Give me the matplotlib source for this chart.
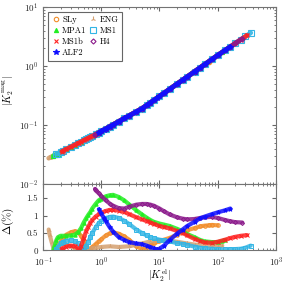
import numpy as np
import matplotlib.pyplot as plt

plt.rcParams['font.family'] = 'serif'
plt.rcParams['font.serif'] = ['cmr10', 'DejaVu Serif']
plt.rcParams['mathtext.fontset'] = 'cm'
plt.rcParams['axes.formatter.use_mathtext'] = True

# valores: |K2_el|, |K2_mag| e desvio Delta(%) para cada EOS
sly_kel = [0.18, 0.2, 0.22, 0.25, 0.3, 0.35, 0.4, 0.45, 0.5, 0.55, 0.6, 0.65, 0.7, 0.8, 0.9,
           1.0, 1.2, 1.4, 1.6, 2.0, 2.5, 3.0, 4.0, 5.0, 6.0, 7.0, 8.0, 10, 12, 15, 20, 25, 30,
           40, 50, 60, 70, 80, 100]
sly_kmag = [0.0329, 0.0347, 0.0363, 0.0388, 0.0425, 0.0459, 0.0490, 0.0520, 0.0548, 0.0575,
            0.0600, 0.0625, 0.0649, 0.0693, 0.0739, 0.0783, 0.0866, 0.0943, 0.1015, 0.1148,
            0.1299, 0.1436, 0.1683, 0.1904, 0.2150, 0.2393, 0.2626, 0.3067, 0.3479, 0.4064,
            0.4965, 0.5799, 0.6579, 0.8038, 0.9386, 1.065, 1.186, 1.301, 1.521]
sly_delta = [0.05, 0.25, 0.33, 0.45, 0.52, 0.55, 0.52, 0.42, 0.28, 0.1, 0.02, 0.05, 0.1, 0.18,
             0.26, 0.32, 0.43, 0.49, 0.52, 0.48, 0.4, 0.31, 0.12, 0.04, 0.08, 0.15, 0.2, 0.27,
             0.31, 0.36, 0.45, 0.52, 0.58, 0.64, 0.69, 0.71, 0.72, 0.73, 0.72]

eng_kel = [0.125, 0.13, 0.14, 0.15, 0.16, 0.18, 0.2, 0.25, 0.3, 0.35, 0.4, 0.5, 0.6, 0.8, 1.0,
           1.4, 2.0, 3.0, 4.0, 5.0, 7.0, 10, 15, 20, 30, 40, 60, 80, 100, 120]
eng_kmag = [0.0274, 0.0280, 0.0290, 0.0300, 0.0310, 0.0329, 0.0347, 0.0388, 0.0425, 0.0459,
            0.0490, 0.0548, 0.0600, 0.0693, 0.0783, 0.0943, 0.1148, 0.1436, 0.1683, 0.1904,
            0.2393, 0.3067, 0.4064, 0.4965, 0.6579, 0.8038, 1.065, 1.301, 1.521, 1.718]
eng_delta = [0.6, 0.45, 0.25, 0.08, 0.1, 0.17, 0.2, 0.18, 0.12, 0.06, 0.03, 0.02, 0.05, 0.08,
             0.1, 0.12, 0.1, 0.12, 0.16, 0.2, 0.26, 0.29, 0.28, 0.25, 0.2, 0.17, 0.14, 0.13,
             0.13, 0.14]

mpa1_kel = [0.15, 0.16, 0.17, 0.18, 0.2, 0.25, 0.3, 0.35, 0.4, 0.45, 0.5, 0.55, 0.6, 0.65, 0.7,
            0.8, 0.9, 1.0, 1.2, 1.4, 1.6, 2.0, 2.5, 3.0, 4.0, 5.0, 6.0, 7.0, 8.0, 10, 12, 15,
            20, 25, 30, 40, 50, 60, 80, 100, 120, 135]
mpa1_kmag = [0.0300, 0.0310, 0.0320, 0.0329, 0.0347, 0.0388, 0.0425, 0.0459, 0.0490, 0.0520,
             0.0548, 0.0575, 0.0600, 0.0625, 0.0649, 0.0693, 0.0739, 0.0783, 0.0866, 0.0943,
             0.1015, 0.1148, 0.1299, 0.1436, 0.1683, 0.1904, 0.2150, 0.2393, 0.2626, 0.3067,
             0.3479, 0.4064, 0.4965, 0.5799, 0.6579, 0.8038, 0.9386, 1.065, 1.301, 1.521,
             1.718, 1.858]
mpa1_delta = [0.02, 0.15, 0.3, 0.38, 0.42, 0.42, 0.43, 0.45, 0.52, 0.64, 0.8, 0.92, 1.02, 1.1,
              1.2, 1.33, 1.43, 1.48, 1.55, 1.58, 1.59, 1.53, 1.43, 1.32, 1.15, 1.03, 0.94,
              0.87, 0.82, 0.77, 0.74, 0.7, 0.62, 0.55, 0.47, 0.38, 0.3, 0.26, 0.24, 0.24, 0.27,
              0.3]

ms1_kel = [0.17, 0.18, 0.2, 0.22, 0.25, 0.3, 0.35, 0.4, 0.45, 0.5, 0.55, 0.6, 0.65, 0.7, 0.8,
           0.9, 1.0, 1.2, 1.4, 1.6, 2.0, 2.5, 3.0, 4.0, 5.0, 6.0, 7.0, 8.0, 10, 12, 15, 20, 25,
           30, 40, 50, 60, 80, 100, 135, 160, 200, 250, 300, 370]
ms1_kmag = [0.0320, 0.0329, 0.0347, 0.0363, 0.0388, 0.0425, 0.0459, 0.0490, 0.0520, 0.0548,
            0.0575, 0.0600, 0.0625, 0.0649, 0.0693, 0.0739, 0.0783, 0.0866, 0.0943, 0.1015,
            0.1148, 0.1299, 0.1436, 0.1683, 0.1904, 0.2150, 0.2393, 0.2626, 0.3067, 0.3479,
            0.4064, 0.4965, 0.5799, 0.6579, 0.8038, 0.9386, 1.065, 1.301, 1.521, 1.858, 2.083,
            2.419, 2.81, 3.174, 3.653]
ms1_delta = [0.05, 0.1, 0.2, 0.25, 0.28, 0.29, 0.27, 0.2, 0.1, 0.02, 0.12, 0.25, 0.38, 0.5,
             0.66, 0.78, 0.85, 0.93, 0.96, 0.97, 0.93, 0.85, 0.76, 0.6, 0.5, 0.43, 0.38, 0.35,
             0.31, 0.29, 0.26, 0.21, 0.19, 0.16, 0.11, 0.08, 0.06, 0.05, 0.04, 0.03, 0.03,
             0.04, 0.05, 0.08, 0.14]

ms1b_kel = [0.21, 0.22, 0.25, 0.3, 0.35, 0.4, 0.42, 0.45, 0.5, 0.55, 0.6, 0.65, 0.7, 0.8, 0.9,
            1.0, 1.2, 1.4, 1.6, 2.0, 2.5, 3.0, 4.0, 5.0, 6.0, 7.0, 8.0, 10, 12, 15, 20, 25, 30,
            40, 50, 60, 80, 100, 135, 160, 200, 250, 320]
ms1b_kmag = [0.0355, 0.0363, 0.0388, 0.0425, 0.0459, 0.0490, 0.0502, 0.0520, 0.0548, 0.0575,
             0.0600, 0.0625, 0.0649, 0.0693, 0.0739, 0.0783, 0.0866, 0.0943, 0.1015, 0.1148,
             0.1299, 0.1436, 0.1683, 0.1904, 0.2150, 0.2393, 0.2626, 0.3067, 0.3479, 0.4064,
             0.4965, 0.5799, 0.6579, 0.8038, 0.9386, 1.065, 1.301, 1.521, 1.858, 2.083, 2.419,
             2.81, 3.315]
ms1b_delta = [0.05, 0.07, 0.11, 0.14, 0.13, 0.05, 0.0, 0.12, 0.35, 0.55, 0.68, 0.79, 0.87,
              0.97, 1.03, 1.08, 1.13, 1.16, 1.16, 1.14, 1.1, 1.04, 0.95, 0.89, 0.84, 0.8, 0.76,
              0.7, 0.67, 0.63, 0.56, 0.5, 0.43, 0.33, 0.27, 0.23, 0.22, 0.25, 0.31, 0.35, 0.39,
              0.42, 0.44]

h4_kel = [0.78, 0.8, 0.9, 1.0, 1.2, 1.4, 1.6, 2.0, 2.5, 3.0, 4.0, 5.0, 6.0, 7.0, 8.0, 10, 12,
          15, 20, 25, 30, 40, 50, 60, 80, 100, 135, 160, 200, 265]
h4_kmag = [0.0685, 0.0693, 0.0739, 0.0783, 0.0866, 0.0943, 0.1015, 0.1148, 0.1299, 0.1436,
           0.1683, 0.1904, 0.2150, 0.2393, 0.2626, 0.3067, 0.3479, 0.4064, 0.4965, 0.5799,
           0.6579, 0.8038, 0.9386, 1.065, 1.301, 1.521, 1.858, 2.083, 2.419, 2.92]
h4_delta = [1.76, 1.72, 1.64, 1.56, 1.43, 1.34, 1.28, 1.21, 1.2, 1.25, 1.31, 1.33, 1.33, 1.31,
            1.28, 1.2, 1.12, 1.03, 0.95, 0.91, 0.89, 0.9, 0.93, 0.95, 0.96, 0.93, 0.87, 0.84,
            0.81, 0.8]

alf2_kel = [0.91, 1.0, 1.1, 1.2, 1.4, 1.6, 2.0, 2.5, 3.0, 4.0, 5.0, 6.0, 7.0, 8.0, 9.0, 10, 12,
            15, 20, 25, 30, 40, 50, 60, 80, 100, 135, 165]
alf2_kmag = [0.0744, 0.0783, 0.0826, 0.0866, 0.0943, 0.1015, 0.1148, 0.1299, 0.1436, 0.1683,
             0.1904, 0.2150, 0.2393, 0.2626, 0.2849, 0.3067, 0.3479, 0.4064, 0.4965, 0.5799,
             0.6579, 0.8038, 0.9386, 1.065, 1.301, 1.521, 1.858, 2.127]
alf2_delta = [1.18, 1.06, 0.94, 0.84, 0.66, 0.54, 0.38, 0.3, 0.24, 0.2, 0.18, 0.14, 0.1, 0.06,
              0.03, 0.05, 0.14, 0.3, 0.48, 0.6, 0.7, 0.82, 0.92, 0.97, 1.04, 1.09, 1.15, 1.2]

series = [
    ("SLy", sly_kel, sly_kmag, sly_delta, "#f28c28", "o", 3.2, True),
    ("ENG", eng_kel, eng_kmag, eng_delta, "#d4a070", "2", 4.0, False),
    ("MPA1", mpa1_kel, mpa1_kmag, mpa1_delta, "#22ee22", "^", 3.0, False),
    ("MS1", ms1_kel, ms1_kmag, ms1_delta, "#33b5e5", "s", 4.4, True),
    ("MS1b", ms1b_kel, ms1b_kmag, ms1b_delta, "#ff2222", "x", 3.0, False),
    ("H4", h4_kel, h4_kmag, h4_delta, "#8b1a8b", "D", 2.6, True),
    ("ALF2", alf2_kel, alf2_kmag, alf2_delta, "#1010ff", "*", 4.0, False),
]

fig = plt.figure(figsize=(2.85, 2.84), dpi=100)
ax1 = fig.add_axes([0.151, 0.352, 0.817, 0.623])
ax2 = fig.add_axes([0.151, 0.118, 0.817, 0.234], sharex=ax1)

handles = {}
for i, (nome, kel, kmag, delta, cor, mk, ms, aberto) in enumerate(series):
    face = "none" if aberto else cor
    # painel de cima: faixa + marcadores, cada EOS por cima da anterior
    ax1.plot(kel, kmag, color=cor, lw=3.4, alpha=0.9, solid_capstyle="round",
             zorder=2 + i)
    h, = ax1.plot(kel, kmag, linestyle="none", marker=mk, ms=ms, color=cor,
                  mfc=face, mew=0.8, label=nome, zorder=2 + i)
    handles[nome] = h
    ax2.plot(kel, delta, color=cor, lw=3.0, alpha=0.85, solid_capstyle="round")
    ax2.plot(kel, delta, linestyle="none", marker=mk, ms=ms * 0.8, color=cor,
             mfc=face, mew=0.7)

for ax in (ax1, ax2):
    ax.set_xscale("log")
    ax.set_xlim(0.1, 1000)
    ax.tick_params(which="both", direction="in", top=True, right=True,
                   color="0.4", labelcolor="0.15", labelsize=6.5)
    ax.tick_params(which="major", length=3)
    ax.tick_params(which="minor", length=1.5)
    for sp in ax.spines.values():
        sp.set_color("0.45")
        sp.set_linewidth(0.8)

ax1.set_yscale("log")
ax1.set_ylim(0.01, 10)
ax1.tick_params(labelbottom=False)
ax1.set_ylabel(r"$|K_2^{\rm mag}|$", fontsize=7.5)
ax1.yaxis.set_label_coords(-0.115, 0.53)

ax2.set_ylim(0, 1.9)
ax2.set_yticks([0, 0.5, 1, 1.5])
ax2.set_yticklabels(["0", "0.5", "1", "1.5"])
ax2.set_ylabel(r"$\Delta(\%)$", fontsize=8)
ax2.yaxis.set_label_coords(-0.115, 0.45)
ax2.set_xlabel(r"$|K_2^{\rm el}|$", fontsize=7.5)
ax2.xaxis.set_label_coords(0.5, -0.255)

ordem = ["SLy", "MPA1", "MS1b", "ALF2", "ENG", "MS1", "H4"]
leg = ax1.legend([handles[n] for n in ordem], ordem, loc="upper left",
                 bbox_to_anchor=(0.021, 0.972), borderaxespad=0, ncol=2, fontsize=6.2,
                 handlelength=0.9, handletextpad=0.3, columnspacing=0.3,
                 labelspacing=0.3, borderpad=0.45, fancybox=False, framealpha=1)
leg.get_frame().set_edgecolor("0.4")
leg.get_frame().set_linewidth(0.8)
leg.set_zorder(20)

fig.savefig("out.png", dpi=100)
